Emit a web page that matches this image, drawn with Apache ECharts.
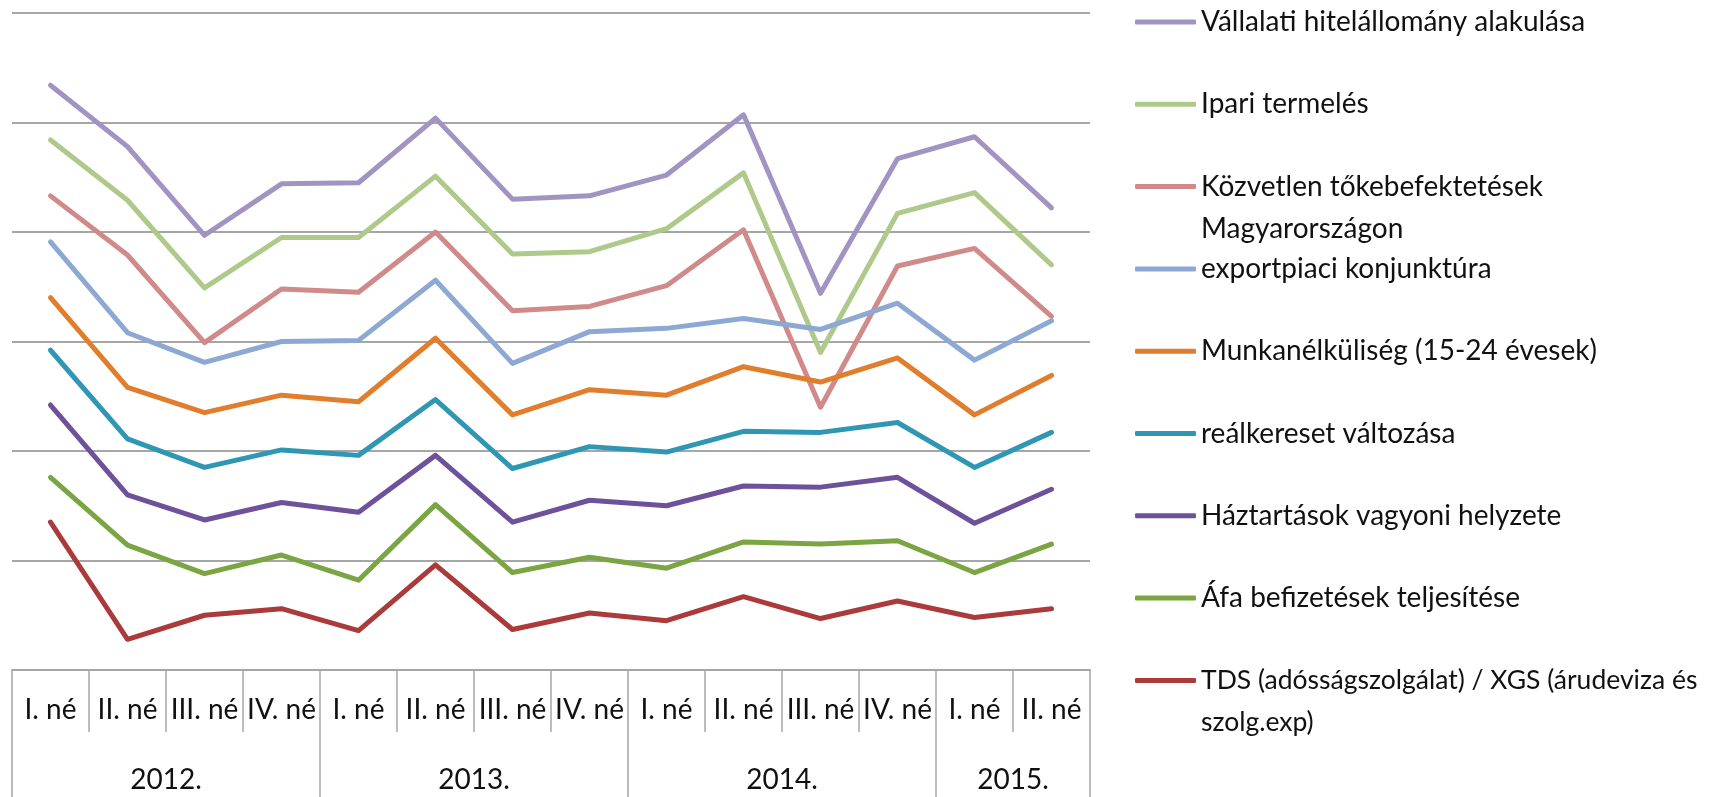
<!DOCTYPE html>
<html>
<head>
<meta charset="utf-8">
<script src="https://cdn.jsdelivr.net/npm/echarts@6/dist/echarts.min.js"></script>
<style>
  html, body { margin: 0; padding: 0; background: #fff; }
  #chart { width: 1722px; height: 797px; }
</style>
</head>
<body>
<div id="chart"></div>
<script>
// 14 negyedév, évenként csoportosítva
const quarters = ['I. né', 'II. né', 'III. né', 'IV. né', 'I. né', 'II. né', 'III. né', 'IV. né',
  'I. né', 'II. né', 'III. né', 'IV. né', 'I. né', 'II. né'];
const years = ['2012.', '2013.', '2014.', '2015.'];
const yearSpans = [4, 4, 4, 2];

const seriesNames = [
  'Vállalati hitelállomány alakulása',
  'Ipari termelés',
  'Közvetlen tőkebefektetések\nMagyarországon',
  'exportpiaci konjunktúra',
  'Munkanélküliség (15-24 évesek)',
  'reálkereset változása',
  'Háztartások vagyoni helyzete',
  'Áfa befizetések teljesítése',
  'TDS (adósságszolgálat) / XGS (árudeviza és\nszolg.exp)'
];
const seriesColors = ['#a294c2', '#aec98a', '#d18a8a', '#8ea8d4', '#e07e2e', '#2f97b3', '#6e519b', '#7ba542', '#ab3a3a'];

const vallalati = [53.4, 47.8, 39.7, 44.4, 44.5, 50.4, 43.0, 43.3, 45.2, 50.7, 34.4, 46.7, 48.7, 42.2];
const ipari     = [48.4, 42.9, 34.9, 39.5, 39.5, 45.1, 38.0, 38.2, 40.3, 45.4, 29.0, 41.7, 43.6, 37.0];
const kozvetlen = [43.3, 37.9, 29.9, 34.8, 34.5, 40.0, 32.8, 33.2, 35.1, 40.2, 24.0, 36.9, 38.5, 32.3];
const export_   = [39.1, 30.8, 28.1, 30.0, 30.1, 35.6, 28.0, 30.9, 31.2, 32.1, 31.1, 33.5, 28.3, 31.9];
const munka     = [34.0, 25.8, 23.5, 25.1, 24.5, 30.3, 23.3, 25.6, 25.1, 27.7, 26.3, 28.5, 23.3, 26.9];
const realker   = [29.2, 21.1, 18.5, 20.1, 19.6, 24.7, 18.4, 20.4, 19.9, 21.8, 21.7, 22.6, 18.5, 21.7];
const haztart   = [24.2, 16.0, 13.7, 15.3, 14.4, 19.6, 13.5, 15.5, 15.0, 16.8, 16.7, 17.6, 13.4, 16.5];
const afa       = [17.6, 11.4, 8.8, 10.5, 8.2, 15.1, 8.9, 10.3, 9.3, 11.7, 11.5, 11.8, 8.9, 11.5];
const tds       = [13.5, 2.8, 5.0, 5.6, 3.6, 9.6, 3.7, 5.2, 4.5, 6.7, 4.7, 6.3, 4.8, 5.6];
const seriesData = [vallalati, ipari, kozvetlen, export_, munka, realker, haztart, afa, tds];

const FONT = 'Lato, "Noto Sans", sans-serif';
const GRAY = '#a6a6a6';

// évhatárok és évközepek a negyedévek skáláján
const yearBounds = [0];
yearSpans.forEach(s => yearBounds.push(yearBounds[yearBounds.length - 1] + s));
const yearCenters = yearSpans.map((s, i) => yearBounds[i] + s / 2);

const chart = echarts.init(document.getElementById('chart'));

// jelmagyarázat: tételenként külön, hogy a kétsoros nevek ne tolják el a többit
// kétsoros névnél üres első sor kerül elé, így a vonal az első szöveges sorral egy magasságban marad
const legendTop0 = 22, legendStep = 82.3, lineH = 42;
const legends = seriesNames.map((name, i) => {
  const twoLines = name.indexOf('\n') >= 0;
  const c = legendTop0 + i * legendStep;
  return {
    data: [name],
    left: 1135,
    top: twoLines ? c - lineH * 1.5 : c - lineH / 2,
    padding: 0,
    icon: 'roundRect',
    itemWidth: 61,
    itemHeight: 5,
    selectedMode: false,
    formatter: n => (twoLines ? '\n' + n : n),
    textStyle: {
      fontFamily: FONT,
      fontSize: i === seriesNames.length - 1 ? 26.5 : 28,
      color: '#111',
      lineHeight: lineH
    }
  };
});

const option = {
  animation: false,
  grid: { left: 12, right: 632, top: 13, bottom: 127, outerBoundsMode: 'none' },
  legend: legends,
  xAxis: [
    {
      type: 'category',
      data: quarters,
      position: 'bottom',
      boundaryGap: true,
      axisLine: { show: true, lineStyle: { color: GRAY, width: 2 } },
      axisTick: { show: true, interval: 0, length: 62, lineStyle: { color: GRAY, width: 1.5 } },
      axisLabel: {
        interval: 0, margin: 40, verticalAlign: 'middle',
        fontFamily: FONT, fontSize: 28, color: '#111'
      },
      splitLine: { show: false }
    },
    {
      type: 'value',
      min: 0,
      max: quarters.length,
      position: 'bottom',
      axisLine: { show: false },
      axisTick: { show: true, customValues: yearBounds, length: 127, lineStyle: { color: GRAY, width: 1.5 } },
      axisLabel: {
        customValues: yearCenters,
        formatter: v => years[yearCenters.indexOf(v)] || '',
        margin: 110, verticalAlign: 'middle',
        fontFamily: FONT, fontSize: 28, color: '#111'
      },
      splitLine: { show: false }
    }
  ],
  yAxis: {
    type: 'value',
    min: 0,
    max: 60,
    interval: 10,
    axisLine: { show: false },
    axisTick: { show: false },
    axisLabel: { show: false },
    splitLine: { lineStyle: { color: GRAY, width: 2 } }
  },
  series: seriesNames.map((name, i) => ({
    name: name,
    type: 'line',
    xAxisIndex: 0,
    data: seriesData[i],
    symbol: 'none',
    color: seriesColors[i],
    lineStyle: { width: 5, color: seriesColors[i], cap: 'round', join: 'round' },
    z: 10 + i
  }))
};

chart.setOption(option);
</script>
</body>
</html>
